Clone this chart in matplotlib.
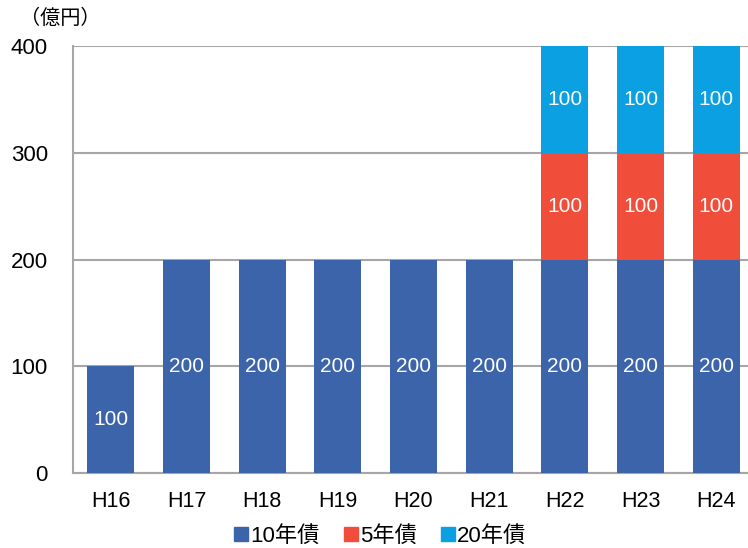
import matplotlib
matplotlib.use("Agg")
import matplotlib.pyplot as plt
from matplotlib.lines import Line2D

# ── Data ─────────────────────────────────────────────────────────────────────
years     = ["H16", "H17", "H18", "H19", "H20", "H21", "H22", "H23", "H24"]
bond_10y  = [100, 200, 200, 200, 200, 200, 200, 200, 200]
bond_5y   = [0, 0, 0, 0, 0, 0, 100, 100, 100]
bond_20y  = [0, 0, 0, 0, 0, 0, 100, 100, 100]
series_names = ["10年債", "5年債", "20年債"]
y_ticks   = [0, 100, 200, 300, 400]

# ── Style ────────────────────────────────────────────────────────────────────
CLR_10Y  = "#3c64aa"
CLR_5Y   = "#f04e3a"
CLR_20Y  = "#0aa0e2"
GRID_CLR = "#a6a6a6"
plt.rcParams["font.family"] = ["Liberation Sans", "Noto Sans CJK JP"]

fig = plt.figure(figsize=(7.48, 5.48), dpi=100)
ax = fig.add_axes([73 / 748, 75 / 548, 675 / 748, 427 / 548])

x = list(range(len(years)))
width = 0.62
bottom_5y  = bond_10y
bottom_20y = [a + b for a, b in zip(bond_10y, bond_5y)]

stacks = [
    (bond_10y, [0] * len(years), CLR_10Y),
    (bond_5y,  bottom_5y,        CLR_5Y),
    (bond_20y, bottom_20y,       CLR_20Y),
]
for vals, base, clr in stacks:
    ax.bar(x, vals, width, bottom=base, color=clr, zorder=3)
    for xi, v, b in zip(x, vals, base):
        if v > 0:
            ax.text(xi, b + v / 2, f"{v}", ha="center", va="center",
                    color="white", fontsize=15, zorder=4)

ax.set_xlim(-0.5, 8.42)
ax.set_ylim(0, 400)
ax.set_yticks(y_ticks)
ax.set_xticks(x)
ax.set_xticklabels(years)
ax.tick_params(axis="y", length=0, pad=18, labelsize=16)
ax.tick_params(axis="x", length=0, pad=13, labelsize=15.5)
for lbl in ax.get_yticklabels():
    lbl.set_horizontalalignment("right")

ax.grid(axis="y", color=GRID_CLR, linewidth=1.5, zorder=0)
for side in ["top", "right"]:
    ax.spines[side].set_visible(False)
for side in ["left", "bottom"]:
    ax.spines[side].set_color(GRID_CLR)
    ax.spines[side].set_linewidth(1.5)

fig.text(20 / 748, 1 - 18 / 548, "（億円）", fontsize=14.5, va="center", ha="left")

handles = [Line2D([], [], marker="s", linestyle="none", markersize=10, color=c)
           for c in (CLR_10Y, CLR_5Y, CLR_20Y)]
fig.legend(handles, series_names, loc="center", bbox_to_anchor=(378 / 748, 1 - 536 / 548),
           ncol=3, frameon=False, fontsize=16, handletextpad=-0.1,
           columnspacing=0.9, handlelength=1.0)

plt.savefig("out.png", dpi=100)
plt.close()
